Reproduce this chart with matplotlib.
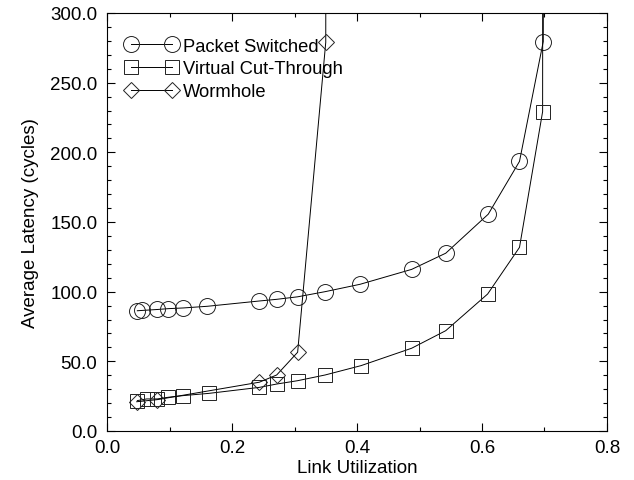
import matplotlib
matplotlib.use('Agg')
import matplotlib.pyplot as plt
from matplotlib.ticker import MultipleLocator, FormatStrFormatter

plt.rcParams['font.family'] = ['Liberation Sans', 'DejaVu Sans']

# Datos (el ultimo punto de cada serie sale por arriba del eje)
ps_x = [0.0485, 0.0555, 0.0805, 0.098, 0.122, 0.1605, 0.2437, 0.2715, 0.305, 0.349, 0.405, 0.4875, 0.542, 0.610, 0.660, 0.698, 0.700]
ps_y = [86.3, 86.5, 87.2, 87.8, 88.3, 89.5, 93.3, 94.5, 96.3, 100.0, 105.3, 116.0, 127.6, 155.6, 193.5, 279.5, 1000.0]

vct_x = [0.0485, 0.0635, 0.0805, 0.098, 0.122, 0.163, 0.2437, 0.2715, 0.305, 0.349, 0.4064, 0.4875, 0.542, 0.609, 0.660, 0.697, 0.698]
vct_y = [21.8, 23.0, 23.0, 24.2, 25.4, 27.0, 31.3, 33.7, 36.1, 40.2, 46.9, 59.4, 72.0, 98.3, 131.8, 229.2, 1000.0]

wh_x = [0.0475, 0.0805, 0.2437, 0.2715, 0.305, 0.350, 0.351]
wh_y = [21.0, 22.5, 35.0, 40.2, 56.5, 279.0, 1000.0]

fig = plt.figure(figsize=(6.34, 4.81), dpi=100)
ax = fig.add_axes([0.1688, 0.1019, 0.7886, 0.8690])

estilo = dict(color='black', linewidth=0.7, markerfacecolor='none',
              markeredgecolor='#222222', markeredgewidth=0.7)
ax.plot(ps_x, ps_y, marker='o', markersize=11.5, label='Packet Switched', **estilo)
ax.plot(vct_x, vct_y, marker='s', markersize=10, label='Virtual Cut-Through', **estilo)
ax.plot(wh_x, wh_y, marker='D', markersize=8, label='Wormhole', **estilo)

ax.set_xlim(0.0, 0.8)
ax.set_ylim(0.0, 300.0)
ax.xaxis.set_major_locator(MultipleLocator(0.2))
ax.xaxis.set_minor_locator(MultipleLocator(0.1))
ax.yaxis.set_major_locator(MultipleLocator(50))
ax.yaxis.set_minor_locator(MultipleLocator(10))
ax.xaxis.set_major_formatter(FormatStrFormatter('%.1f'))
ax.yaxis.set_major_formatter(FormatStrFormatter('%.1f'))
ax.tick_params(which='both', direction='in', top=True, right=True, labelsize=13.5, width=0.8)
ax.tick_params(which='major', length=6)
ax.tick_params(which='minor', length=3)
ax.tick_params(axis='x', which='major', pad=6)
ax.tick_params(axis='y', which='major', pad=7)
for s in ax.spines.values():
    s.set_linewidth(0.8)

ax.set_xlabel('Link Utilization', fontsize=13.5, labelpad=2)
ax.set_ylabel('Average Latency (cycles)', fontsize=13.5, labelpad=8)

ax.legend(loc='upper left', numpoints=2, frameon=False, fontsize=13.2,
          handlelength=2.85, handletextpad=0.28, labelspacing=0.32,
          borderaxespad=0.6, bbox_to_anchor=(0.0, 0.985))

plt.savefig('out.png', dpi=100)
plt.close()
